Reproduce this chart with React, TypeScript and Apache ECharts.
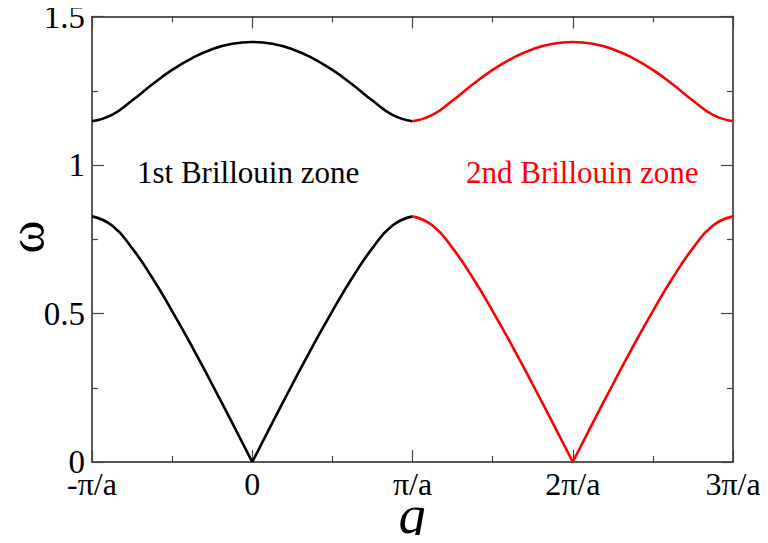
import React, { useEffect, useRef } from "react";
import * as echarts from "echarts";

// Wave vector q in units of pi/a across one Brillouin zone
const qFirstZone = [-1, -0.875, -0.75, -0.625, -0.5, -0.375, -0.25, -0.125, 0, 0.125, 0.25, 0.375, 0.5, 0.625, 0.75, 0.875, 1];
const qSecondZone = [1, 1.125, 1.25, 1.375, 1.5, 1.625, 1.75, 1.875, 2, 2.125, 2.25, 2.375, 2.5, 2.625, 2.75, 2.875, 3];

// Frequencies of the two branches sampled on the grids above
const opticalOmega = [1.147, 1.169, 1.217, 1.271, 1.32, 1.36, 1.39, 1.408, 1.414, 1.408, 1.39, 1.36, 1.32, 1.271, 1.217, 1.169, 1.147];
const acousticOmega = [0.827, 0.796, 0.72, 0.621, 0.508, 0.388, 0.261, 0.132, 0, 0.132, 0.261, 0.388, 0.508, 0.621, 0.72, 0.796, 0.827];

const xTickLabels: Record<string, string> = {
  "-1": "-\u03c0/a",
  "0": "0",
  "1": "\u03c0/a",
  "2": "2\u03c0/a",
  "3": "3\u03c0/a",
};

const SERIF = "Liberation Serif";
const AXIS_COLOR = "#222";

function pairs(q: number[], w: number[], from: number, to: number) {
  const out: number[][] = [];
  for (let i = from; i <= to; i++) out.push([q[i], w[i]]);
  return out;
}

function branchSeries(q: number[], color: string) {
  const common = {
    type: "line" as const,
    showSymbol: false,
    smooth: true,
    lineStyle: { color, width: 2.6 },
    silent: true,
  };
  const mid = Math.floor(q.length / 2);
  return [
    { ...common, data: pairs(q, opticalOmega, 0, q.length - 1) },
    { ...common, data: pairs(q, acousticOmega, 0, mid) },
    { ...common, data: pairs(q, acousticOmega, mid, q.length - 1) },
  ];
}

export default function App() {
  const ref = useRef<HTMLDivElement>(null);

  useEffect(() => {
    if (!ref.current) return;
    const chart = echarts.init(ref.current, undefined, { renderer: "svg" });

    const axisLine = { show: true, onZero: false, lineStyle: { color: AXIS_COLOR, width: 1.5 } };
    const axisTick = { show: true, inside: true, length: 12, lineStyle: { color: "#444", width: 1.2 } };
    const minorTick = { show: true, splitNumber: 2, length: 6, lineStyle: { color: "#444", width: 1.2 } };

    chart.setOption({
      animation: false,
      backgroundColor: "#fff",
      grid: { left: 92, right: 35, top: 13, bottom: 81, containLabel: false },
      xAxis: [
        {
          type: "value",
          min: -1,
          max: 3,
          interval: 1,
          position: "bottom",
          axisLine,
          axisTick,
          minorTick,
          splitLine: { show: false },
          axisLabel: {
            margin: 6,
            fontFamily: SERIF,
            fontSize: 32,
            color: "#000",
            formatter: (v: number) => xTickLabels[String(v)] ?? "",
          },
        },
        {
          type: "value",
          min: -1,
          max: 3,
          interval: 1,
          position: "top",
          axisLine,
          axisTick,
          minorTick,
          splitLine: { show: false },
          axisLabel: { show: false },
        },
      ],
      yAxis: [
        {
          type: "value",
          min: 0,
          max: 1.5,
          interval: 0.5,
          position: "left",
          axisLine,
          axisTick,
          minorTick,
          splitLine: { show: false },
          axisLabel: {
            margin: 7,
            fontFamily: SERIF,
            fontSize: 33,
            color: "#000",
            formatter: (v: number) => String(v),
          },
        },
        {
          type: "value",
          min: 0,
          max: 1.5,
          interval: 0.5,
          position: "right",
          axisLine,
          axisTick,
          minorTick,
          splitLine: { show: false },
          axisLabel: { show: false },
        },
      ],
      series: [...branchSeries(qFirstZone, "#000"), ...branchSeries(qSecondZone, "#ff0000")],
      graphic: [
        {
          type: "text",
          x: 137,
          y: 172,
          style: { text: "1st Brillouin zone", fontFamily: SERIF, fontSize: 31, fill: "#000", verticalAlign: "middle" },
        },
        {
          type: "text",
          x: 466,
          y: 172,
          style: { text: "2nd Brillouin zone", fontFamily: SERIF, fontSize: 31, fill: "#ff0000", verticalAlign: "middle" },
        },
        {
          type: "text",
          x: 412,
          y: 515,
          style: { text: "q", fontFamily: SERIF, fontStyle: "italic", fontSize: 54, fill: "#000", align: "center", verticalAlign: "middle" },
        },
        {
          type: "text",
          x: 27,
          y: 237,
          rotation: Math.PI / 2,
          style: { text: "\u03c9", fontFamily: SERIF, fontSize: 50, fill: "#000", align: "center", verticalAlign: "middle" },
        },
      ],
    });

    return () => chart.dispose();
  }, []);

  return <div ref={ref} style={{ width: 768, height: 543, margin: -8 }} />;
}
